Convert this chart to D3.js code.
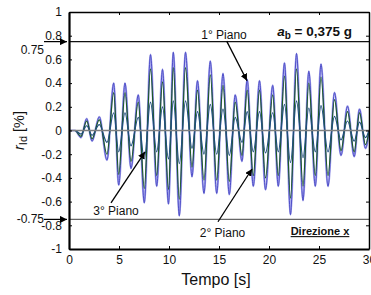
<!DOCTYPE html>
<html>
<head>
<meta charset="utf-8">
<script src="https://cdn.jsdelivr.net/npm/d3@7"></script>
<style>
  body { margin: 0; background: #fff; }
  text { font-family: Arial, "Liberation Sans", sans-serif; fill: #111; }
</style>
</head>
<body>
<div id="chart"></div>
<script>
// time of each peak / trough [s]
var tempo = [0, 0.6, 1.2, 1.77, 2.3, 3.03, 3.8, 4.47, 4.97, 5.6,
             6.2, 6.93, 7.53, 8.15, 8.77, 9.35, 9.95, 10.43, 11.03, 11.65,
             12.3, 12.85, 13.5, 14.13, 14.77, 15.4, 16.03, 16.62, 17.3, 17.82,
             18.43, 19.05, 19.65, 20.37, 20.93, 21.55, 22.15, 22.75, 23.4, 23.98,
             24.63, 25.2, 25.9, 26.55, 27.2, 27.85, 28.52, 29.05, 29.65, 30];

// drift values [%]
var piano1 = [0, 0, -0.06, 0.10, -0.09, 0.115, -0.25, 0.40, -0.46, 0.40,
              -0.32, 0.30, -0.61, 0.64, -0.47, 0.515, -0.62, 0.66, -0.72, 0.66,
              -0.39, 0.42, -0.53, 0.585, -0.53, 0.48, -0.54, 0.30, -0.26, 0.43,
              -0.47, 0.42, -0.50, 0.38, -0.47, 0.57, -0.71, 0.65, -0.59, 0.50,
              -0.47, 0.56, -0.47, 0.32, -0.21, 0.205, -0.22, 0.18, -0.15, 0];
var piano2 = [0, 0, -0.05, 0.08, -0.07, 0.09, -0.2, 0.32, -0.37, 0.32,
              -0.26, 0.24, -0.49, 0.52, -0.38, 0.41, -0.5, 0.53, -0.58, 0.53,
              -0.31, 0.34, -0.42, 0.47, -0.42, 0.38, -0.43, 0.24, -0.21, 0.34,
              -0.38, 0.34, -0.4, 0.3, -0.38, 0.46, -0.57, 0.52, -0.47, 0.4,
              -0.38, 0.45, -0.38, 0.26, -0.17, 0.16, -0.18, 0.15, -0.12, 0];
var piano3 = [0, 0, -0.03, 0.04, -0.04, 0.05, -0.1, 0.15, -0.18, 0.15,
              -0.13, 0.11, -0.24, 0.24, -0.18, 0.2, -0.24, 0.25, -0.28, 0.25,
              -0.15, 0.16, -0.2, 0.22, -0.2, 0.18, -0.21, 0.11, -0.1, 0.16,
              -0.18, 0.16, -0.19, 0.15, -0.18, 0.22, -0.27, 0.25, -0.23, 0.19,
              -0.18, 0.21, -0.18, 0.12, -0.08, 0.08, -0.09, 0.07, -0.06, 0];

var xTicks = [0, 5, 10, 15, 20, 25, 30];
var yTicks = [-1, -0.8, -0.6, -0.4, -0.2, 0, 0.2, 0.4, 0.6, 0.8, 1];
var limiti = [0.75, -0.75];

var margin = { top: 12, right: 2, bottom: 46, left: 69 },
    width = 371 - margin.left - margin.right,
    height = 295 - margin.top - margin.bottom;

var root = d3.select("#chart")
    .append("svg")
    .attr("width", 371)
    .attr("height", 295);

// arrow head
root.append("defs").append("marker")
    .attr("id", "head")
    .attr("viewBox", "0 0 10 10")
    .attr("refX", 10).attr("refY", 5)
    .attr("markerWidth", 7).attr("markerHeight", 7)
    .attr("markerUnits", "userSpaceOnUse")
    .attr("orient", "auto")
    .append("path")
    .attr("d", "M0,0L10,5L0,10z")
    .attr("fill", "#000");

var svg = root.append("g")
    .attr("transform", "translate(" + margin.left + "," + margin.top + ")");

var x = d3.scaleLinear().domain([0, 30]).range([0, width]);
var y = d3.scaleLinear().domain([-1, 1]).range([height, 0]);

var fmt = function(d) { return String(Math.round(d * 10) / 10); };

// limit lines at +/-0.75
svg.selectAll(".lim")
    .data(limiti)
    .enter().append("line")
    .attr("class", "lim")
    .attr("x1", 0).attr("x2", width)
    .attr("y1", function(d) { return y(d); })
    .attr("y2", function(d) { return y(d); })
    .attr("stroke", function(d) { return d > 0 ? "#111" : "#666"; })
    .attr("stroke-width", 1.2);

// series
var line = d3.line()
    .x(function(d, i) { return x(tempo[i]); })
    .y(function(d) { return y(d); })
    .curve(d3.curveMonotoneX);

svg.append("path").datum(piano1)
    .attr("d", line).attr("fill", "none")
    .attr("stroke", "#a8a8ec").attr("stroke-width", 2.2);
svg.append("path").datum(piano1)
    .attr("d", line).attr("fill", "none")
    .attr("stroke", "#4646c4").attr("stroke-width", 0.9);
svg.append("path").datum(piano2)
    .attr("d", line).attr("fill", "none")
    .attr("stroke", "#1b5a22").attr("stroke-width", 1.2);
svg.append("path").datum(piano3)
    .attr("d", line).attr("fill", "none")
    .attr("stroke", "#1f4e7e").attr("stroke-width", 1.2);

// zero line
svg.append("line")
    .attr("x1", 0).attr("x2", width)
    .attr("y1", y(0)).attr("y2", y(0))
    .attr("stroke", "#808080").attr("stroke-width", 1.4);

// axes
var gx = svg.append("g")
    .attr("transform", "translate(0," + height + ")")
    .call(d3.axisBottom(x).tickValues(xTicks).tickSize(-3).tickSizeOuter(0).tickPadding(6));
var gy = svg.append("g")
    .call(d3.axisLeft(y).tickValues(yTicks).tickFormat(fmt).tickSize(-3).tickSizeOuter(0).tickPadding(7));
var gt = svg.append("g")
    .call(d3.axisTop(x).tickValues(xTicks).tickFormat("").tickSize(-3).tickSizeOuter(0));
var gr = svg.append("g")
    .attr("transform", "translate(" + width + ",0)")
    .call(d3.axisRight(y).tickValues(yTicks).tickFormat("").tickSize(-3).tickSizeOuter(0));

[gx, gy].forEach(function(g) {
    g.select(".domain").attr("stroke", "#000").attr("stroke-width", 2.2);
    g.selectAll("text").style("font-size", "12px").attr("fill", "#111");
});
[gt, gr].forEach(function(g) {
    g.select(".domain").attr("stroke", "#000").attr("stroke-width", 1.5);
});

// extra labels for the limits, with arrows
svg.selectAll(".limlab")
    .data(limiti)
    .enter().append("text")
    .attr("x", -25)
    .attr("y", function(d) { return y(d) + (d > 0 ? 8 : -1); })
    .attr("dy", "0.35em")
    .style("text-anchor", "end")
    .style("font-size", "12px")
    .text(function(d) { return String(d); });
svg.selectAll(".limarr")
    .data(limiti)
    .enter().append("line")
    .attr("x1", -25).attr("x2", -2)
    .attr("y1", function(d) { return y(d); })
    .attr("y2", function(d) { return y(d); })
    .attr("stroke", "#000").attr("stroke-width", 1.2)
    .attr("marker-end", "url(#head)");

// annotations
var note = function(t, v, txt) {
    return svg.append("text")
        .attr("x", x(t)).attr("y", y(v))
        .attr("dy", "0.35em")
        .style("text-anchor", "middle")
        .style("font-size", "12px")
        .text(txt);
};
var arrow = function(t1, v1, t2, v2) {
    svg.append("line")
        .attr("x1", x(t1)).attr("y1", y(v1))
        .attr("x2", x(t2)).attr("y2", y(v2))
        .attr("stroke", "#000").attr("stroke-width", 1.3)
        .attr("marker-end", "url(#head)");
};

note(15.5, 0.81, "1\u00b0 Piano");
arrow(15.77, 0.754, 17.8, 0.42);
note(4.7, -0.68, "3\u00b0 Piano");
arrow(4.2, -0.61, 7.6, -0.18);
note(15.35, -0.86, "2\u00b0 Piano");
arrow(14.9, -0.77, 18.3, -0.325);

var ab = svg.append("text")
    .attr("x", x(28.3)).attr("y", y(0.835))
    .attr("dy", "0.35em")
    .style("text-anchor", "end")
    .style("font-size", "13.5px")
    .style("font-weight", "bold");
ab.append("tspan").style("font-style", "italic").text("a");
ab.append("tspan").attr("dy", "3").style("font-size", "10px").text("b");
ab.append("tspan").attr("dy", "-3").text(" = 0,375 g");

svg.append("text")
    .attr("x", x(25.1)).attr("y", y(-0.85))
    .attr("dy", "0.35em")
    .style("text-anchor", "middle")
    .style("font-size", "11px")
    .style("font-weight", "bold")
    .style("text-decoration", "underline")
    .text("Direzione x");

// axis titles
svg.append("text")
    .attr("transform", "translate(" + (width / 2 - 3) + "," + (height + 36) + ")")
    .style("text-anchor", "middle")
    .style("font-size", "16px")
    .text("Tempo [s]");

var yl = svg.append("text")
    .attr("transform", "translate(" + (24 - margin.left) + "," + (height / 2) + ") rotate(-90)")
    .style("text-anchor", "middle")
    .style("font-size", "14.5px");
yl.append("tspan").style("font-style", "italic").text("r");
yl.append("tspan").attr("dy", "3").style("font-size", "11px").text("Id");
yl.append("tspan").attr("dy", "-3").text(" [%]");
</script>
</body>
</html>
